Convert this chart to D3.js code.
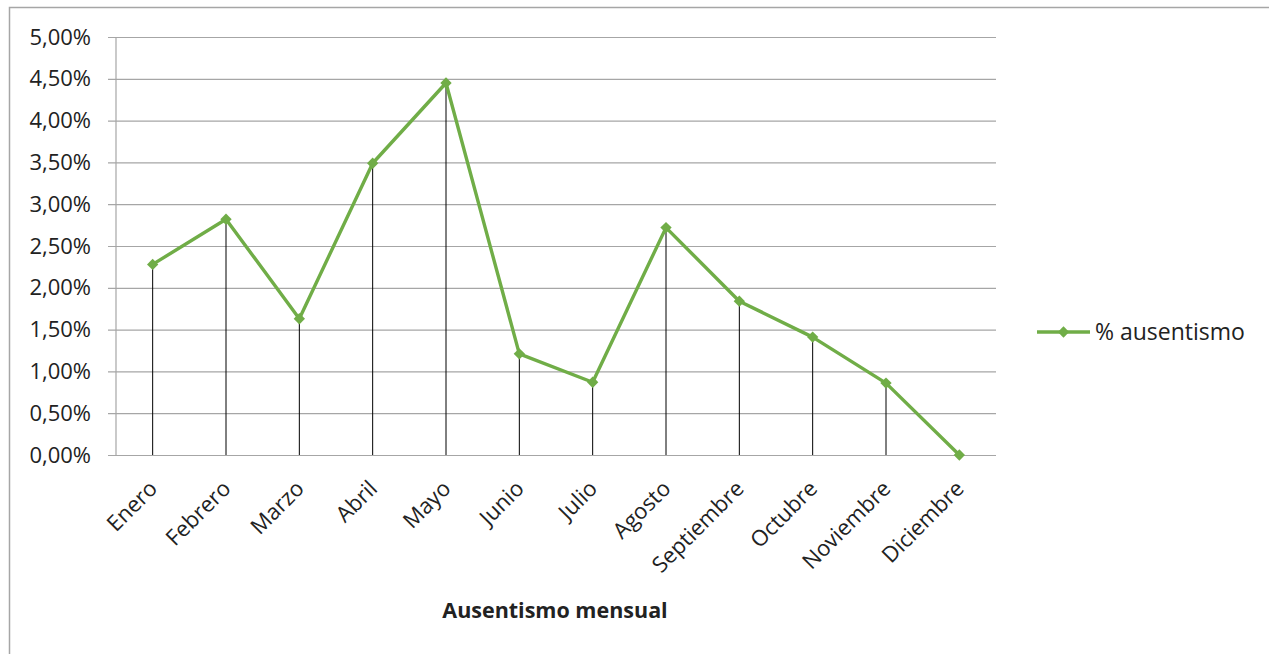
<!DOCTYPE html>
<html>
<head>
<meta charset="utf-8">
<script src="https://cdn.jsdelivr.net/npm/d3@7"></script>
<style>
  html, body { margin: 0; padding: 0; background: #fff; }
  svg { display: block; }
  text { font-family: "Open Sans", "Noto Sans", sans-serif; fill: #222; }
</style>
</head>
<body>
<svg id="chart" width="1269" height="654"></svg>
<script>
const categories = ["Enero","Febrero","Marzo","Abril","Mayo","Junio","Julio","Agosto","Septiembre","Octubre","Noviembre","Diciembre"];
const ausentismo = [0.0228, 0.0282, 0.0163, 0.0349, 0.0445, 0.0121, 0.0087, 0.0272, 0.0184, 0.0141, 0.0086, 0.0000];
const yTicks = [0, 0.005, 0.01, 0.015, 0.02, 0.025, 0.03, 0.035, 0.04, 0.045, 0.05];
const seriesName = "% ausentismo";
const xTitle = "Ausentismo mensual";

const svg = d3.select("#chart");
const W = 1269, H = 654;
const m = { left: 116, right: 996, top: 37, bottom: 455 };
const green = "#70AD47";
const fs = 22;

// outer frame (top and left edges)
svg.append("path")
  .attr("d", `M9.5,${H} V7.5 H${W}`)
  .attr("fill", "none").attr("stroke", "#a6a6a6").attr("stroke-width", 1.5);

const x = d3.scaleBand().domain(categories).range([m.left, m.right]).paddingInner(0).paddingOuter(0);
const y = d3.scaleLinear().domain([0, 0.05]).range([m.bottom, m.top]);
const fmt = v => d3.format(".2f")(v * 100).replace(".", ",") + "%";

// gridlines + y labels via axis
const yAxis = d3.axisLeft(y).tickValues(yTicks).tickFormat(fmt)
  .tickSize(-(m.right - m.left)).tickPadding(12);
const gy = svg.append("g").attr("transform", `translate(${m.left},0)`).call(yAxis);
gy.select(".domain").remove();
gy.selectAll(".tick line").attr("stroke", "#a6a6a6").attr("stroke-width", 1.2)
  .attr("x1", -8);
gy.selectAll(".tick text").attr("font-size", fs).attr("fill", "#222")
  .attr("font-family", '"Open Sans", sans-serif').attr("x", -25);

// y-axis line
svg.append("line").attr("x1", m.left).attr("x2", m.left)
  .attr("y1", m.top).attr("y2", m.bottom)
  .attr("stroke", "#a6a6a6").attr("stroke-width", 1.2);

// x axis labels
const xAxis = d3.axisBottom(x).tickSize(0).tickPadding(0);
const gx = svg.append("g").attr("transform", `translate(0,${m.bottom})`).call(xAxis);
gx.select(".domain").remove();
gx.selectAll(".tick text")
  .attr("font-size", fs).attr("fill", "#222")
  .attr("font-family", '"Open Sans", sans-serif')
  .attr("text-anchor", "end")
  .attr("dy", null).attr("y", 0)
  .attr("transform", "translate(6,35) rotate(-45)");

// drop lines
svg.append("g").selectAll("line")
  .data(ausentismo.map((v, i) => ({ c: categories[i], v })).filter(d => d.v > 0))
  .join("line")
  .attr("x1", d => x(d.c) + x.bandwidth() / 2)
  .attr("x2", d => x(d.c) + x.bandwidth() / 2)
  .attr("y1", d => y(d.v)).attr("y2", y(0))
  .attr("stroke", "#000").attr("stroke-width", 1);

// line
const pts = ausentismo.map((v, i) => ({ c: categories[i], v }));
const line = d3.line().x(d => x(d.c) + x.bandwidth() / 2).y(d => y(d.v));
svg.append("path").datum(pts).attr("d", line)
  .attr("fill", "none").attr("stroke", green).attr("stroke-width", 3.4)
  .attr("stroke-linejoin", "round");

// markers (square rotated 45deg)
const diamond = d3.symbol().type(d3.symbolSquare).size(64);
svg.append("g").selectAll("path").data(pts).join("path")
  .attr("d", diamond)
  .attr("transform", d => `translate(${x(d.c) + x.bandwidth() / 2},${y(d.v)}) rotate(45)`)
  .attr("fill", green);

// axis title
svg.append("text").attr("x", (m.left + m.right) / 2 - 1).attr("y", 618)
  .attr("text-anchor", "middle").attr("font-size", 21.5).attr("font-weight", "bold")
  .attr("fill", "#111").text(xTitle);

// legend
const lg = svg.append("g").attr("transform", "translate(1037,332)");
lg.append("line").attr("x1", 0).attr("x2", 53).attr("y1", 0).attr("y2", 0)
  .attr("stroke", green).attr("stroke-width", 3.4);
lg.append("path").attr("d", diamond).attr("transform", "translate(26.5,0) rotate(45)").attr("fill", green);
lg.append("text").attr("x", 58).attr("y", 0).attr("dy", "0.35em")
  .attr("font-size", 23).attr("fill", "#222").text(seriesName);
</script>
</body>
</html>
